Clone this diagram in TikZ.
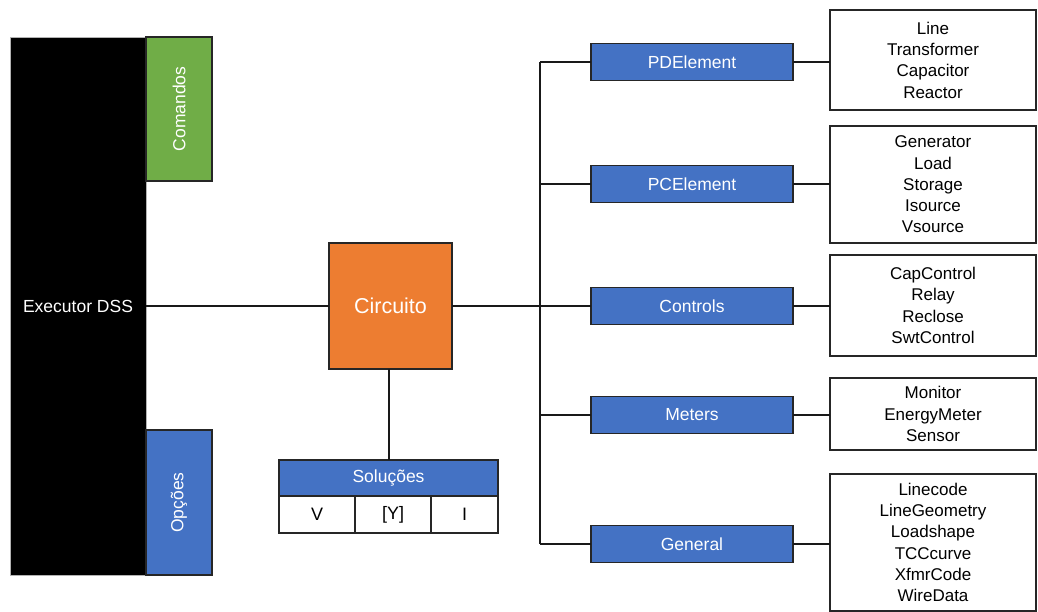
\documentclass[tikz,border=0pt]{standalone}
\usepackage{fontspec}
\setmainfont{Liberation Sans}
\definecolor{ofblue}{HTML}{4472C4}
\definecolor{ofgreen}{HTML}{70AD47}
\definecolor{oforange}{HTML}{ED7D31}
\begin{document}
\begin{tikzpicture}[x=1pt,y=-1pt,
  box/.style={draw=black!85,line width=1.3pt,inner sep=0pt,outer sep=0pt},
  cat/.style={box,fill=ofblue,text=white,minimum width=202pt,minimum height=37pt,
    font=\fontsize{17.5}{20}\selectfont},
  list/.style={box,fill=white,minimum width=206pt,align=center,
    font=\fontsize{17}{21.3}\selectfont},
  side/.style={box,minimum width=66pt,text=white,font=\fontsize{17.5}{20}\selectfont},
  cell/.style={box,fill=white,minimum height=37pt,font=\fontsize{18}{20}\selectfont},
  wire/.style={line width=1.3pt,draw=black!90}]
\useasboundingbox (0,0) rectangle (1038,612);

% executor block with its two side tabs
\node[draw=black!30,line width=0.8pt,fill=black,minimum width=136pt,minimum height=538pt,
  inner sep=0pt,text=white,font=\fontsize{17.5}{20}\selectfont] (exec) at (78,306) {Executor DSS};
\node[side,fill=ofgreen,minimum height=144pt] (cmd) at (179,109) {\rotatebox{90}{Comandos}};
\node[side,fill=ofblue,minimum height=145pt] (opc) at (179,502.5) {\rotatebox{90}{Opções}};

% circuit and solutions
\node[box,fill=oforange,text=white,minimum width=123pt,minimum height=126pt,
  font=\fontsize{21.5}{24}\selectfont] (circ) at (390.5,306) {Circuito};
\node[box,fill=ofblue,text=white,minimum width=219pt,minimum height=36pt,
  font=\fontsize{17.5}{20}\selectfont] (sol) at (388.5,478) {Soluções};
\node[cell,minimum width=76pt] (cv) at (317,514.5) {V};
\node[cell,minimum width=76pt] (cy) at (393,514.5) {[Y]};
\node[cell,minimum width=67pt] (ci) at (464.5,514.5) {I};

% element categories
\node[cat] (pd) at (692,62) {PDElement};
\node[cat] (pc) at (692,184) {PCElement};
\node[cat] (ctl) at (692,306) {Controls};
\node[cat] (met) at (692,415) {Meters};
\node[cat] (gen) at (692,544) {General};

% element lists
\node[list,minimum height=100pt] (l1) at (933,60) {Line\\Transformer\\Capacitor\\Reactor};
\node[list,minimum height=117pt] (l2) at (933,184.5) {Generator\\Load\\Storage\\Isource\\Vsource};
\node[list,minimum height=101pt] (l3) at (933,305.5) {CapControl\\Relay\\Reclose\\SwtControl};
\node[list,minimum height=72pt] (l4) at (933,414) {Monitor\\EnergyMeter\\Sensor};
\node[list,minimum height=137pt] (l5) at (933,542.5) {Linecode\\LineGeometry\\Loadshape\\TCCcurve\\XfmrCode\\WireData};

% connectors
\coordinate (bustop) at (540,62);
\coordinate (busbot) at (540,544);
\coordinate (drop) at (389,369);
\draw[wire] (exec.east |- circ.west) -- (circ.west);
\draw[wire] (drop) -- (drop |- sol.north);
\draw[wire] (circ.east) -- (bustop |- circ.east);
\draw[wire] (bustop) -- (busbot);
\foreach \c/\l in {pd/l1,pc/l2,ctl/l3,met/l4,gen/l5}{
  \draw[wire] (bustop |- \c.west) -- (\c.west);
  \draw[wire] (\c.east) -- (\c.east -| \l.west);
}
\end{tikzpicture}
\end{document}
